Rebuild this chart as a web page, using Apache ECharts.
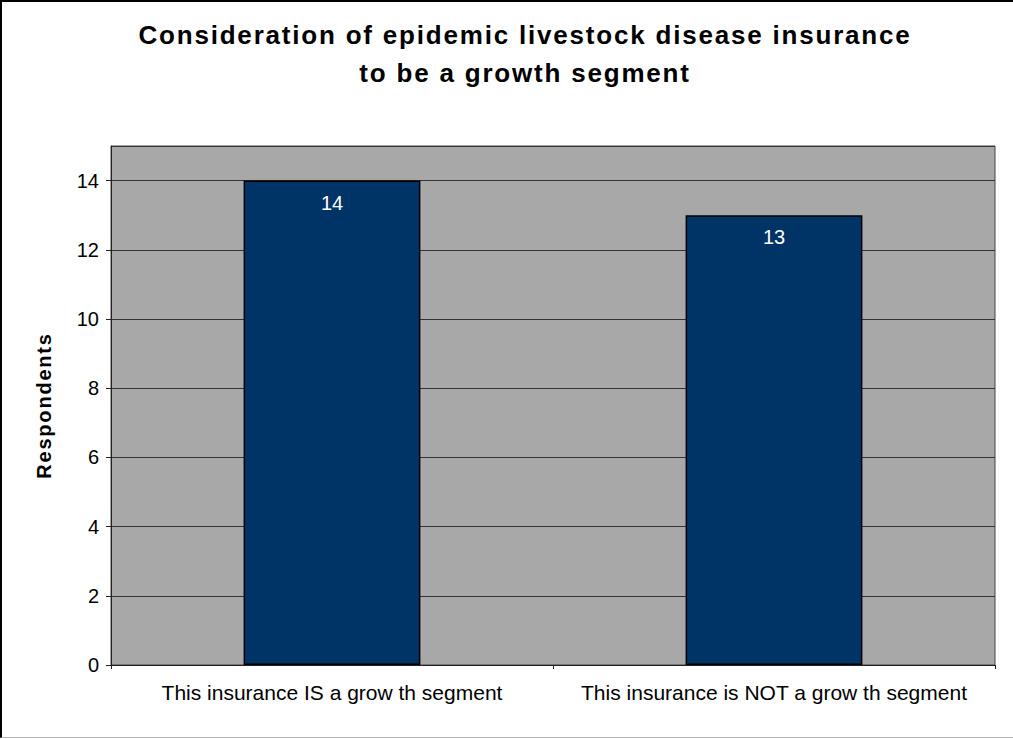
<!DOCTYPE html>
<html><head><meta charset="utf-8">
<script src="https://cdn.jsdelivr.net/npm/echarts@6/dist/echarts.min.js"></script>
<style>
html,body{margin:0;padding:0;background:#fff;}
#frame{position:absolute;left:0;top:0;width:1013px;height:738px;border-top:2px solid #000;border-left:2px solid #000;border-bottom:1px solid #b8b8b8;box-sizing:border-box;}
#c{position:absolute;left:0;top:0;width:1013px;height:739px;}
#c text[style*="bold"]{letter-spacing:1.8px;}
</style></head><body>
<div id="frame"></div>
<div id="c"></div>
<script>
const categories = ["This insurance IS a grow th segment", "This insurance is NOT a grow th segment"];
const respondents = [14, 13];
const yTicks = [0, 2, 4, 6, 8, 10, 12, 14];

const chart = echarts.init(document.getElementById('c'), null, {renderer: 'svg'});
chart.setOption({
  animation: false,
  title: {
    text: 'Consideration of epidemic livestock disease insurance\nto be a growth segment',
    left: 520, textAlign: 'center', top: 11,
    textStyle: {fontFamily: 'Liberation Sans', fontWeight: 'bold', fontSize: 26, lineHeight: 38, color: '#000'}
  },
  grid: {left: 111, right: 18, top: 146, bottom: 74, show: true, backgroundColor: '#a8a8a8', borderColor: '#444', borderWidth: 1},
  xAxis: {
    type: 'category', data: categories,
    axisLine: {lineStyle: {color: '#222', width: 1}},
    axisTick: {show: true, length: 4, lineStyle: {color: '#222'}},
    axisLabel: {interval: 0, hideOverlap: false, fontFamily: 'Liberation Sans', fontSize: 21, color: '#000', margin: 17}
  },
  yAxis: {
    type: 'value', min: 0, max: 15, interval: 2,
    name: 'Respondents', nameLocation: 'middle', nameGap: 57, nameRotate: 90,
    nameTextStyle: {fontFamily: 'Liberation Sans', fontWeight: 'bold', fontSize: 20, color: '#000'},
    axisLine: {show: true, lineStyle: {color: '#222'}},
    axisTick: {show: true, length: 5, lineStyle: {color: '#222'}},
    axisLabel: {fontFamily: 'Liberation Sans', fontSize: 20, color: '#000', margin: 12, showMaxLabel: false,
      formatter: v => yTicks.includes(v) ? String(v) : ''},
    splitLine: {lineStyle: {color: '#333', width: 1}}
  },
  series: [{
    type: 'bar', data: respondents, barWidth: '40%',
    itemStyle: {color: '#003366', borderColor: '#000', borderWidth: 1.5},
    label: {show: true, position: 'insideTop', distance: 12, color: '#fff', fontFamily: 'Liberation Sans', fontSize: 20}
  }]
});
</script>
</body></html>
